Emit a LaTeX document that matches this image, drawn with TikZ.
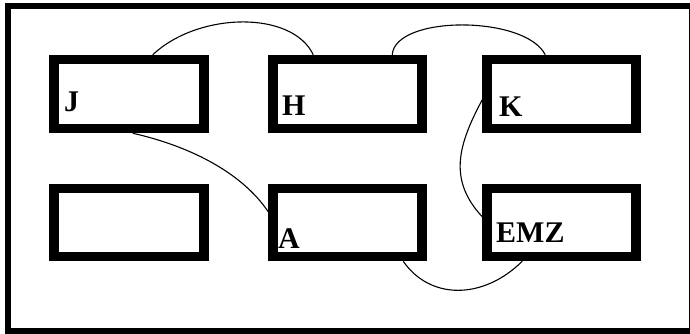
\documentclass[tikz,border=0pt]{standalone}
\usepackage{fontspec}
\setmainfont{Liberation Serif}
\usetikzlibrary{calc}
\begin{document}
\begin{tikzpicture}[x=1pt,y=-1pt,
  frame/.style={draw=black,line width=6pt},
  slot/.style={draw=black,line width=9.5pt,fill=white,minimum width=150pt,minimum height=69pt,inner sep=0pt},
  tag/.style={anchor=base west,inner sep=0pt,font=\fontsize{30}{30}\selectfont\bfseries},
  link/.style={draw=black,line width=1.1pt}]
\useasboundingbox (0,0) rectangle (690,333);
% outer frame
\draw[frame] (7.5,6) rectangle (692,330.5);
% boxes, upper row
\node[slot] (J) at (129,94) {};
\node[slot,minimum width=149pt] (H) at (347.5,94) {};
\node[slot,minimum width=149pt] (K) at (561.5,94) {};
% boxes, lower row
\node[slot,minimum height=68pt] (B) at (129,222.5) {};
\node[slot,minimum width=149pt,minimum height=68pt] (A) at (347.5,222.5) {};
\node[slot,minimum width=149pt,minimum height=68pt] (E) at (561.5,222.5) {};
% labels
\node[tag] (tJ) at (64,111) {J};
\node[tag] (tH) at (282,115) {H};
\node[tag] (tK) at (499,116) {K};
\node[tag] (tA) at (278,248) {A};
\node[tag] (tE) at (496,242) {EMZ};
% connectors
\draw[link] ($(J.north west)+(103.5,0)$) .. controls (198,12) and (292,10) .. ($(H.north west)+(45,0)$);
\draw[link] ($(H.north west)+(124,0)$) .. controls (395,15) and (525,15) .. ($(K.north west)+(63,0)$);
\draw[link] ($(J.south west)+(83.5,0)$) .. controls (185,145) and (240,170) .. ($(A.north west)+(0,28)$);
\draw[link] ($(K.north west)+(0,45)$) .. controls (458,145) and (448,180) .. ($(E.north west)+(0,33)$);
\draw[link] ($(A.south west)+(135,0)$) .. controls (430,300) and (483,300) .. ($(E.south west)+(40,0)$);
\end{tikzpicture}
\end{document}
